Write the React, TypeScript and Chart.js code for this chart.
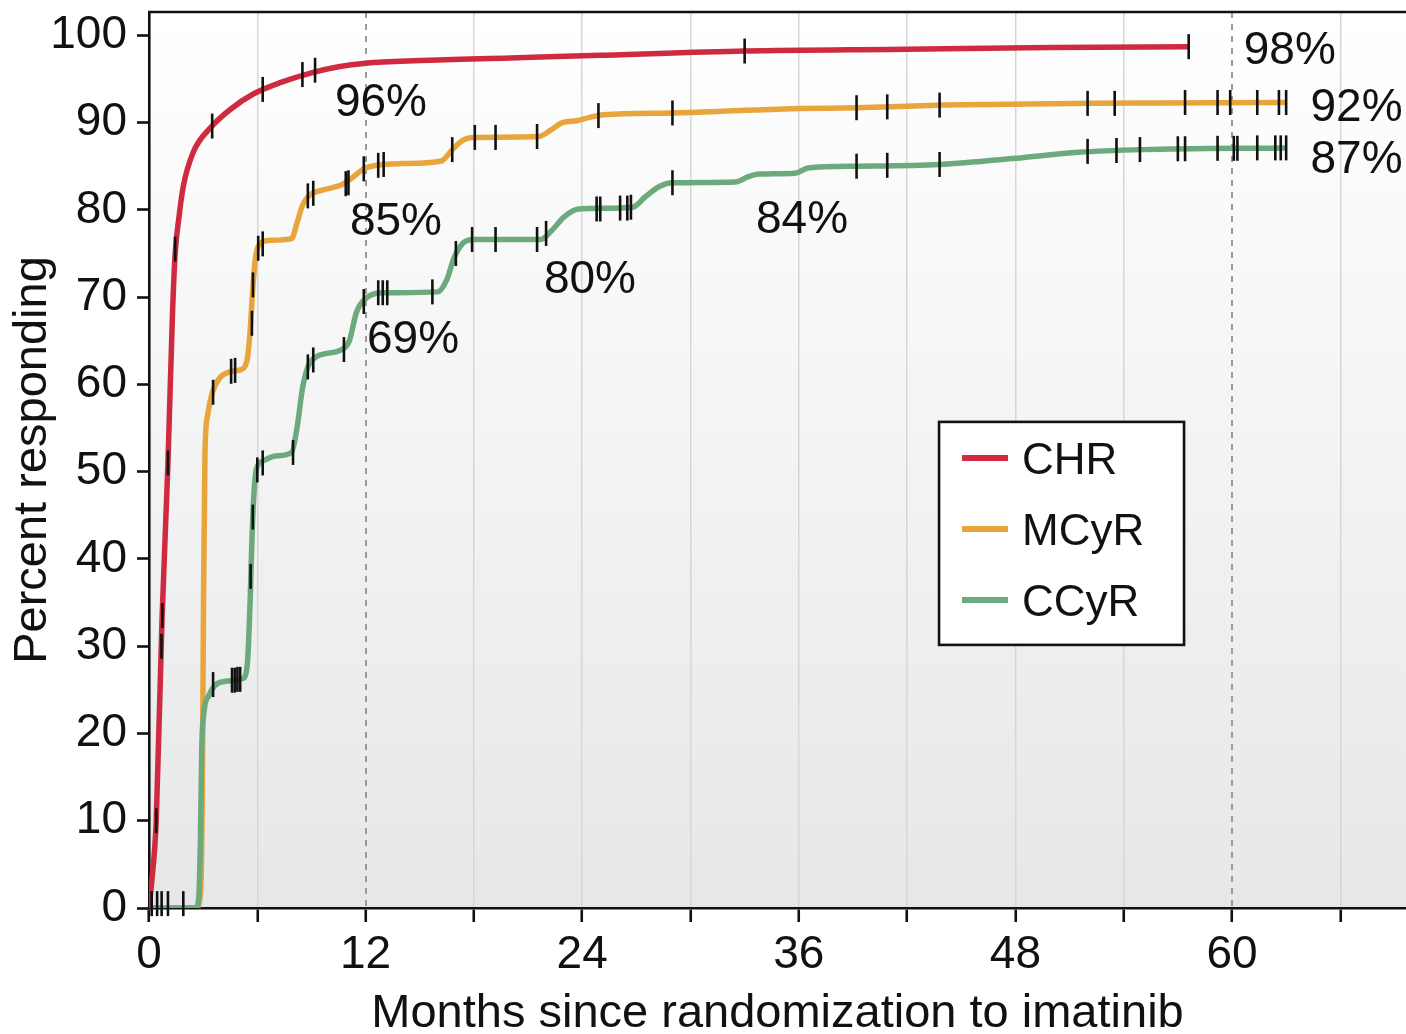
import React, { useEffect, useRef } from "react";
import { Chart, registerables } from "chart.js";

Chart.register(...registerables);

const FONT = "'Liberation Sans', Arial, Helvetica, sans-serif";

// ---- series (months since randomization, percent responding) ----
const seriesNames = ["CHR", "MCyR", "CCyR"];
const seriesColors = ["#d02a40", "#e8a53c", "#6caa7e"];

const chrX = [0, 0.15, 0.4, 0.72, 1.05, 1.3, 1.45, 1.65, 1.9, 2.45, 3.4, 4.5, 5.8, 7.3, 9, 10.5, 12, 15, 20, 25, 33, 42, 50, 57.6];
const chrY = [0, 3, 10, 33, 51, 68, 75, 79, 82.7, 86.6, 89.4, 91.5, 93.3, 94.6, 95.7, 96.4, 96.8, 97.1, 97.4, 97.7, 98.2, 98.4, 98.6, 98.7];

const mcyrX = [0, 2.6, 2.85, 2.95, 3.02, 3.1, 3.25, 3.5, 3.9, 4.6, 5.2, 5.45, 5.6, 5.75, 5.9, 6.1, 6.6, 7.9, 8.2, 8.5, 8.9, 9.5, 10.7, 11.2, 11.9, 12.6, 14, 16.2, 16.8, 17.4, 18, 21.6, 22.3, 22.9, 23.7, 24.4, 25.2, 29, 33, 36, 39.2, 44, 52, 63];
const mcyrY = [0, 0, 1.5, 12, 35, 52, 56.5, 59, 60.7, 61.5, 61.8, 63, 66, 71, 74.5, 76, 76.5, 76.7, 78.5, 80.5, 81.7, 82.2, 82.9, 83.6, 84.7, 85.1, 85.3, 85.6, 86.9, 88, 88.3, 88.4, 89.2, 90, 90.2, 90.6, 90.9, 91.1, 91.4, 91.6, 91.7, 92.0, 92.2, 92.3];

const ccyrX = [0, 2.6, 2.75, 2.85, 2.92, 3.05, 3.3, 3.65, 4.3, 5.2, 5.45, 5.6, 5.7, 5.8, 5.95, 6.3, 7, 7.9, 8.2, 8.5, 8.8, 9.3, 10.7, 11.1, 11.5, 12.1, 13, 16, 16.5, 16.9, 17.4, 18, 21.7, 22.3, 23, 23.8, 26.8, 27.5, 28.3, 29, 32.5, 33.2, 33.8, 35.8, 36.5, 39.2, 43.8, 48, 51.5, 55, 63];
const ccyrY = [0, 0, 1, 8, 18, 22.5, 24.3, 25.5, 26, 26.3, 28, 35, 42, 47, 50.3, 51.2, 51.8, 52.2, 55, 59.5, 62, 63.2, 64, 65, 68.3, 70, 70.5, 70.6, 72, 74.5, 76.2, 76.6, 76.6, 77.6, 79.2, 80.1, 80.3, 81.5, 82.7, 83.1, 83.2, 83.8, 84.1, 84.2, 84.8, 85, 85.2, 85.9, 86.6, 86.9, 87.1];

// ---- censoring marks ----
const baseCensorX = [0.15, 0.45, 0.7, 1.05, 1.9];
const baseCensorY = [0.5, 0.5, 0.5, 0.5, 0.5];

const chrCensorX = [0.4, 0.69, 0.74, 1.05, 1.45, 3.5, 6.3, 8.5, 9.2, 33, 57.6];
const chrCensorY = [10, 30, 33.5, 51, 75.5, 89.6, 93.8, 95.5, 96.0, 98.2, 98.7];

const mcyrCensorX = [3.55, 4.55, 4.77, 5.7, 5.76, 6.05, 6.3, 8.8, 9.1, 10.9, 11.05, 11.9, 12.7, 13.0, 16.8, 18.05, 19.2, 21.5, 24.9, 29.0, 39.2, 40.9, 43.8, 52.0, 53.5, 57.4, 59.2, 59.9, 61.4, 62.6, 63.0];
const mcyrCensorY = [59.1, 61.5, 61.6, 67, 71.4, 75.6, 76.1, 81.6, 81.9, 83.0, 83.1, 84.7, 85.1, 85.2, 86.9, 88.3, 88.3, 88.4, 90.8, 91.1, 91.7, 91.8, 92.0, 92.2, 92.2, 92.3, 92.3, 92.3, 92.3, 92.3, 92.3];

const ccyrCensorX = [3.55, 4.6, 4.75, 4.9, 5.05, 5.63, 5.75, 6.0, 6.3, 7.98, 8.8, 9.1, 10.8, 11.9, 12.7, 12.95, 13.2, 15.7, 17.0, 17.9, 19.2, 21.5, 22.0, 24.8, 25.0, 26.1, 26.5, 26.7, 29.0, 39.2, 40.9, 43.8, 52.0, 53.6, 54.9, 57.0, 57.4, 59.2, 60.1, 60.3, 61.4, 62.4, 62.7, 63.0];
const ccyrCensorY = [25.6, 26.1, 26.1, 26.2, 26.2, 38, 44.8, 50.2, 51.0, 52.2, 62, 62.8, 64, 69.5, 70.5, 70.5, 70.5, 70.6, 75, 76.6, 76.6, 76.6, 77.3, 80.1, 80.1, 80.2, 80.2, 80.3, 83.1, 85, 85.1, 85.2, 86.7, 86.8, 86.9, 87, 87, 87.05, 87.05, 87.05, 87.1, 87.1, 87.1, 87.1];

// ---- axes ----
const xTickValues = [0, 6, 12, 18, 24, 30, 36, 42, 48, 54, 60, 66];
const xLabelEvery = 12;
const dashedMonths = [12, 60];
const yTickValues = [0, 10, 20, 30, 40, 50, 60, 70, 80, 90, 100];

// ---- percent annotations ----
const pctLabels = ["96%", "85%", "69%", "80%", "84%", "98%", "92%", "87%"];
const pctLabelX = [12.85, 13.68, 14.63, 24.43, 36.18, 63.2, 66.9, 66.9];
const pctLabelY = [92.66, 79.0, 65.5, 72.4, 79.2, 98.6, 92.1, 86.1];

const toPoints = (xs: number[], ys: number[]) => xs.map((x, i) => ({ x, y: ys[i] }));

export default function App() {
  const ref = useRef<HTMLCanvasElement | null>(null);

  useEffect(() => {
    const canvas = ref.current;
    if (!canvas) return;

    const lineDs = (i: number, xs: number[], ys: number[], order: number) => ({
      type: "line" as const,
      label: seriesNames[i],
      data: toPoints(xs, ys),
      borderColor: seriesColors[i],
      backgroundColor: seriesColors[i],
      borderWidth: 5.5,
      pointRadius: 0,
      fill: false,
      cubicInterpolationMode: "monotone" as const,
      order,
    });
    const censorDs = (xs: number[], ys: number[]) => ({
      type: "scatter" as const,
      label: "censored",
      data: toPoints(xs, ys),
      showLine: false,
      pointStyle: "line" as const,
      rotation: 90,
      pointRadius: 12.5,
      pointHoverRadius: 12.5,
      borderColor: "#111",
      backgroundColor: "#111",
      borderWidth: 2.6,
      clip: false as any,
      order: 0,
    });

    const bgPlugin = {
      id: "bgGradient",
      beforeDraw(chart: any) {
        const { ctx, chartArea: a } = chart;
        const g = ctx.createLinearGradient(0, a.top, 0, a.bottom);
        g.addColorStop(0, "#ffffff");
        g.addColorStop(1, "#e6e7e8");
        ctx.save();
        ctx.fillStyle = g;
        ctx.fillRect(a.left, a.top, a.right - a.left, a.bottom - a.top);
        ctx.restore();
      },
      beforeDatasetsDraw(chart: any) {
        const { ctx, chartArea: a, scales } = chart;
        ctx.save();
        ctx.strokeStyle = "#9a9a9a";
        ctx.lineWidth = 2;
        ctx.setLineDash([6, 6]);
        dashedMonths.forEach((m) => {
          const px = Math.round(scales.x.getPixelForValue(m));
          ctx.beginPath();
          ctx.moveTo(px, a.top);
          ctx.lineTo(px, a.bottom);
          ctx.stroke();
        });
        ctx.restore();
      },
      afterDraw(chart: any) {
        const { ctx, chartArea: a, scales } = chart;
        ctx.save();
        // top frame line
        ctx.strokeStyle = "#111";
        ctx.lineWidth = 2.6;
        ctx.beginPath();
        ctx.moveTo(a.left - 1, a.top);
        ctx.lineTo(a.right, a.top);
        ctx.stroke();

        // percent annotations
        const fs = 46;
        ctx.fillStyle = "#111";
        ctx.font = `${fs}px ${FONT}`;
        ctx.textAlign = "center";
        ctx.textBaseline = "alphabetic";
        pctLabels.forEach((t, i) => {
          const px = scales.x.getPixelForValue(pctLabelX[i]);
          const py = scales.y.getPixelForValue(pctLabelY[i]);
          ctx.fillText(t, px, py + 0.358 * fs);
        });

        // legend box
        const l = scales.x.getPixelForValue(43.77);
        const t = scales.y.getPixelForValue(55.7);
        const w = 245;
        const h = 223;
        ctx.fillStyle = "#ffffff";
        ctx.fillRect(l, t, w, h);
        ctx.strokeStyle = "#111";
        ctx.lineWidth = 2.6;
        ctx.strokeRect(l, t, w, h);
        const lfs = 44;
        ctx.font = `${lfs}px ${FONT}`;
        ctx.textAlign = "left";
        seriesNames.forEach((name, i) => {
          const cy = t + 36 + i * 71;
          ctx.strokeStyle = seriesColors[i];
          ctx.lineWidth = 6;
          ctx.beginPath();
          ctx.moveTo(l + 23, cy);
          ctx.lineTo(l + 69, cy);
          ctx.stroke();
          ctx.fillStyle = "#111";
          ctx.fillText(name, l + 83, cy + 0.358 * lfs);
        });
        ctx.restore();
      },
    };

    const chart = new Chart(canvas, {
      type: "line",
      data: {
        datasets: [
          lineDs(0, chrX, chrY, 1),
          lineDs(1, mcyrX, mcyrY, 3),
          lineDs(2, ccyrX, ccyrY, 2),
          censorDs(baseCensorX, baseCensorY),
          censorDs(chrCensorX, chrCensorY),
          censorDs(mcyrCensorX, mcyrCensorY),
          censorDs(ccyrCensorX, ccyrCensorY),
        ] as any,
      },
      options: {
        responsive: false,
        animation: false,
        devicePixelRatio: 1,
        layout: { autoPadding: false, padding: { top: 12, left: 0, right: 0, bottom: 0 } },
        plugins: {
          legend: { display: false },
          tooltip: { enabled: false },
        },
        events: [],
        scales: {
          x: {
            type: "linear",
            min: 0,
            max: 69.64,
            afterBuildTicks: (s: any) => {
              s.ticks = xTickValues.map((v) => ({ value: v }));
            },
            afterFit: (s: any) => {
              s.height = 126;
            },
            ticks: {
              autoSkip: false,
              maxRotation: 0,
              padding: 6,
              color: "#111",
              font: { family: FONT, size: 46 },
              callback: (v: any) => (Number(v) % xLabelEvery === 0 ? String(v) : ""),
            },
            grid: {
              color: (c: any) => {
                const v = c.tick ? c.tick.value : -1;
                return dashedMonths.includes(v) || v === 0 ? "rgba(0,0,0,0)" : "#d6d6d6";
              },
              lineWidth: 1.5,
              drawTicks: true,
              tickLength: 14,
              tickColor: "#111",
              tickWidth: 2.6,
            },
            border: { display: true, color: "#111", width: 2.6 },
            title: {
              display: true,
              text: "Months since randomization to imatinib",
              color: "#111",
              font: { family: FONT, size: 47, lineHeight: 1 },
              padding: { top: 0, bottom: -4 },
            },
          },
          y: {
            type: "linear",
            min: 0,
            max: 102.67,
            afterBuildTicks: (s: any) => {
              s.ticks = yTickValues.map((v) => ({ value: v }));
            },
            afterFit: (s: any) => {
              s.width = 149;
              s.paddingTop = 0;
              s.paddingBottom = 0;
            },
            ticks: {
              autoSkip: false,
              padding: 10,
              color: "#111",
              font: { family: FONT, size: 46, lineHeight: 0.2 },
            },
            grid: {
              drawOnChartArea: false,
              drawTicks: true,
              tickLength: 12,
              tickColor: "#111",
              tickWidth: 2.6,
            },
            border: { display: true, color: "#111", width: 2.6 },
            title: {
              display: true,
              text: "Percent responding",
              color: "#111",
              font: { family: FONT, size: 47, lineHeight: 1 },
              padding: 10,
            },
          },
        },
      } as any,
      plugins: [bgPlugin],
    });

    return () => {
      chart.destroy();
    };
  }, []);

  return (
    <div style={{ position: "absolute", left: 0, top: 0, width: 1406, height: 1034, background: "#fff" }}>
      <canvas ref={ref} width={1406} height={1034} style={{ display: "block", width: 1406, height: 1034 }} />
    </div>
  );
}
